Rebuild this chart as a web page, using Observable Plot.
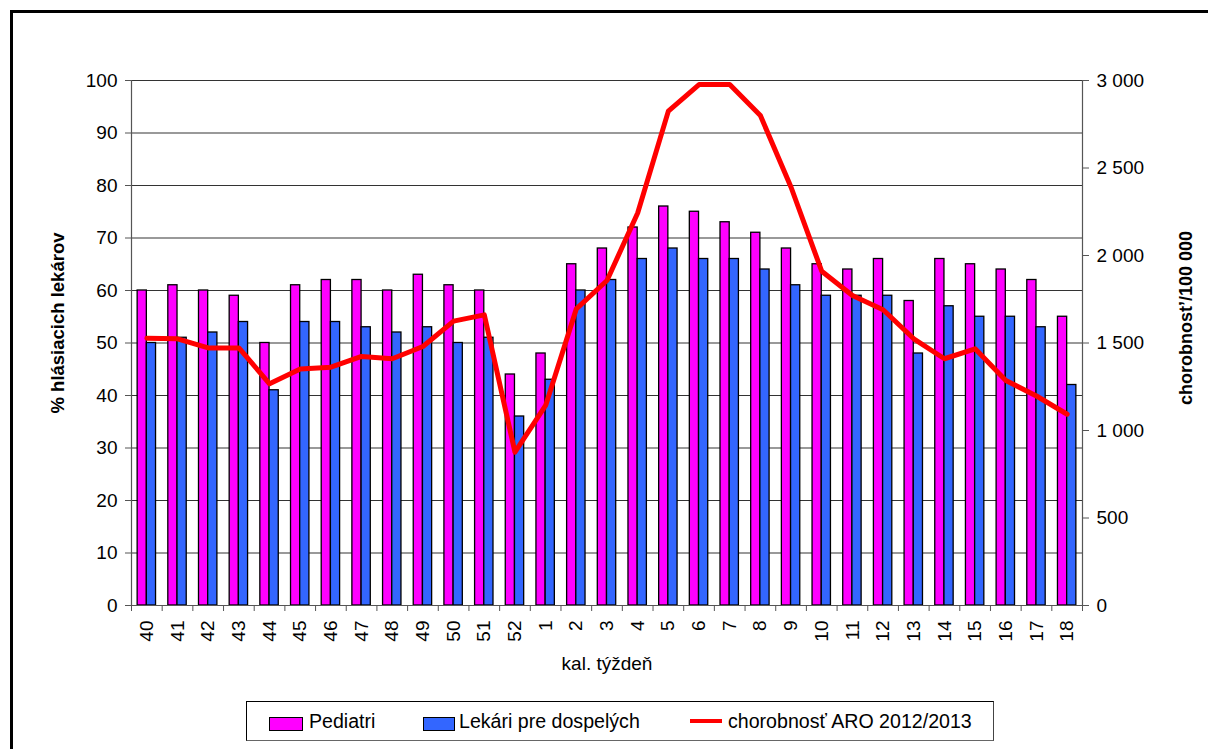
<!DOCTYPE html>
<html>
<head>
<meta charset="utf-8">
<script src="https://cdn.jsdelivr.net/npm/d3@7"></script>
<script src="https://cdn.jsdelivr.net/npm/@observablehq/plot@0.6"></script>
<style>
  html, body { margin: 0; padding: 0; background: #fff; overflow: hidden; }
  #wrap { position: relative; width: 1208px; height: 749px; overflow: hidden; font-family: "Liberation Sans", Arial, sans-serif; }
  #frame { position: absolute; left: 10px; top: 10px; width: 1400px; height: 900px; border: 3px solid #000; box-sizing: border-box; }
  #chart { position: absolute; left: 0; top: 0; }
  #legend { position: absolute; left: 246px; top: 701px; width: 748px; height: 40px; border: 1px solid #000; border-bottom-color: #666; border-right-color: #444; box-sizing: border-box; background: #fff; font-size: 19.6px; color: #000; }
  .sw { position: absolute; box-sizing: border-box; border: 1.5px solid #000; }
  .lt { position: absolute; top: 8px; white-space: nowrap; line-height: 22px; }
</style>
</head>
<body>
<div id="wrap">
  <div id="frame"></div>
  <div id="chart"></div>
  <div id="legend"></div>
</div>
<script>
const weeks = ["40","41","42","43","44","45","46","47","48","49","50","51","52","1","2","3","4","5","6","7","8","9","10","11","12","13","14","15","16","17","18"];
const pediatri = [60,61,60,59,50,61,62,62,60,63,61,60,44,48,65,68,72,76,75,73,71,68,65,64,66,58,66,65,64,62,55];
const lekari   = [50,51,52,54,41,54,54,53,52,53,50,51,36,43,60,62,66,68,66,66,64,61,59,59,59,48,57,55,55,53,42];
const aro      = [1527,1524,1472,1472,1267,1352,1362,1423,1410,1480,1625,1661,876,1143,1695,1857,2243,2825,2977,2977,2800,2390,1910,1771,1690,1524,1410,1467,1286,1197,1093];
const leftTicks = [0,10,20,30,40,50,60,70,80,90,100];
const rightTicks = [0,500,1000,1500,2000,2500,3000];
const seriesNames = ["Pediatri", "Lekári pre dospelých", "chorobnosť ARO 2012/2013"];
const yTitle = "% hlásiacich lekárov";
const y2Title = "chorobnost’/100 000";
const xTitle = "kal. týždeň";

const RIGHT_MAX = 3000, LEFT_MAX = 100;
const toLeft = v => v * LEFT_MAX / RIGHT_MAX;
const n = weeks.length;
const rows = weeks.map((w, i) => ({i, w, ped: pediatri[i], lek: lekari[i], aro: aro[i]}));
const fmt = v => d3.format(",")(v).replace(/,/g, " ");

const chart = Plot.plot({
  width: 1208,
  height: 690,
  marginLeft: 131,
  marginRight: 126,
  marginTop: 80,
  marginBottom: 85,
  x: {type: "linear", domain: [-0.5, n - 0.5], axis: null},
  y: {domain: [0, LEFT_MAX], axis: null},
  style: {fontFamily: "'Liberation Sans', Arial, sans-serif", fontSize: "19px", color: "#000", background: "transparent", overflow: "visible"},
  marks: [
    Plot.ruleY(leftTicks.filter(d => d > 0), {stroke: "#000", strokeWidth: 1, strokeOpacity: 0.8}),
    Plot.rect(rows, {x1: d => d.i - 0.3, x2: d => d.i, y1: 0, y2: "ped", fill: "#FF00FF", stroke: "#000", strokeWidth: 1.3}),
    Plot.rect(rows, {x1: d => d.i, x2: d => d.i + 0.3, y1: 0, y2: "lek", fill: "#3366FF", stroke: "#000", strokeWidth: 1.3}),
    Plot.line(rows, {x: "i", y: d => toLeft(d.aro), stroke: "#FF0000", strokeWidth: 5}),
    Plot.ruleX([-0.5, n - 0.5], {stroke: "#555", strokeWidth: 1.2}),
    Plot.ruleY([0], {stroke: "#555", strokeWidth: 1.2}),
    Plot.axisY(leftTicks, {anchor: "left", tickSize: 6, tickPadding: 8, stroke: "#555", label: null, fill: "#000"}),
    Plot.axisY(rightTicks.map(toLeft), {anchor: "right", tickSize: 6, tickPadding: 8, stroke: "#555", label: null, fill: "#000", tickFormat: v => fmt(Math.round(v * RIGHT_MAX / LEFT_MAX))}),
    Plot.axisX(d3.range(n + 1).map(i => i - 0.5), {anchor: "bottom", tickSize: 6, stroke: "#555", tickFormat: () => "", label: null}),
    Plot.axisX(d3.range(n), {anchor: "bottom", tickSize: 0, tickPadding: 15, tickRotate: -90, tickFormat: i => weeks[i], label: null, fill: "#000"}),
    Plot.text([yTitle], {text: d => d, frameAnchor: "left", textAnchor: "middle", rotate: -90, dx: -73, dy: -20, fontWeight: "bold", fontSize: 18.5, fill: "#000"}),
    Plot.text([y2Title], {text: d => d, frameAnchor: "right", textAnchor: "middle", rotate: -90, dx: 104, dy: -25, fontWeight: "bold", fontSize: 18, fill: "#000"}),
    Plot.text([xTitle], {text: d => d, frameAnchor: "bottom", dy: 64, fontSize: 19, fill: "#000"})
  ]
});
document.getElementById("chart").appendChild(chart);

// legend
const legend = document.getElementById("legend");
const items = [
  {type: "box", color: "#FF00FF", sx: 22, sw: 34, tx: 62, label: seriesNames[0]},
  {type: "box", color: "#3366FF", sx: 176, sw: 32, tx: 212, label: seriesNames[1]},
  {type: "line", color: "#FF0000", sx: 443, sw: 32, tx: 481, label: seriesNames[2]}
];
for (const it of items) {
  const s = document.createElement("div");
  s.className = "sw";
  s.style.left = it.sx + "px";
  if (it.type === "box") {
    s.style.top = "15px"; s.style.width = it.sw + "px"; s.style.height = "14px"; s.style.background = it.color;
  } else {
    s.style.top = "17px"; s.style.width = it.sw + "px"; s.style.height = "4px"; s.style.background = it.color; s.style.border = "none";
  }
  legend.appendChild(s);
  const t = document.createElement("div");
  t.className = "lt";
  t.style.left = it.tx + "px";
  t.textContent = it.label;
  legend.appendChild(t);
}
</script>
</body>
</html>
